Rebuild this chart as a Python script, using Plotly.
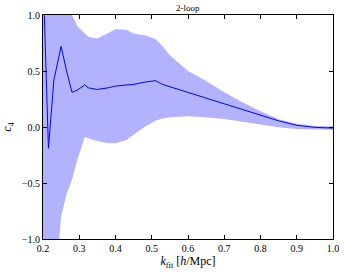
import plotly.graph_objects as go

k = [0.20, 0.215, 0.23, 0.25, 0.265, 0.28, 0.295, 0.315, 0.325, 0.35, 0.38, 0.40,
     0.43, 0.45, 0.48, 0.51, 0.53, 0.55, 0.60, 0.65, 0.70, 0.75, 0.80, 0.85,
     0.90, 0.95, 1.00]
c4_mean = [1.38, -0.19, 0.42, 0.72, 0.50, 0.31, 0.33, 0.375, 0.35, 0.335, 0.35, 0.365,
           0.375, 0.38, 0.40, 0.414, 0.38, 0.36, 0.31, 0.255, 0.21, 0.16, 0.105, 0.055,
           0.015, -0.003, -0.01]
c4_upper = [3.0, 2.5, 2.0, 1.6, 1.3, 1.0, 0.90, 0.84, 0.805, 0.79, 0.84, 0.872,
            0.868, 0.834, 0.82, 0.785, 0.72, 0.64, 0.50, 0.41, 0.31, 0.22, 0.14, 0.07,
            0.028, 0.01, 0.006]
c4_lower = [-3.0, -2.5, -1.6, -0.80, -0.60, -0.47, -0.29, -0.09, -0.10, -0.125, -0.145, -0.145,
            -0.115, -0.07, 0.0, 0.055, 0.075, 0.088, 0.095, 0.088, 0.072, 0.05, 0.022, -0.002,
            -0.018, -0.023, -0.023]

xticks = [0.2, 0.3, 0.4, 0.5, 0.6, 0.7, 0.8, 0.9, 1.0]
yticks = [-1.0, -0.5, 0.0, 0.5, 1.0]
xtick_text = ["0.2", "0.3", "0.4", "0.5", "0.6", "0.7", "0.8", "0.9", "1.0"]
ytick_text = ["\u22121.0", "\u22120.5", "0.0", "0.5", "1.0"]

font = "Liberation Serif, serif"

fig = go.Figure()
fig.add_trace(go.Scatter(
    x=k + k[::-1], y=c4_upper + c4_lower[::-1],
    fill="toself", fillcolor="rgb(178,178,255)", line=dict(width=0),
    mode="lines", hoverinfo="skip", showlegend=False))
fig.add_trace(go.Scatter(
    x=k, y=c4_mean, mode="lines", line=dict(color="rgb(0,0,255)", width=1),
    showlegend=False))

fig.update_layout(
    width=344, height=272,
    margin=dict(l=43, r=11, t=15, b=33, autoexpand=False),
    paper_bgcolor="white", plot_bgcolor="white",
    font=dict(family=font, size=10, color="black"),
    title=dict(text="2-loop", x=0.546, xanchor="center", y=0.972, yanchor="middle",
               font=dict(family=font, size=9)),
)
axis_common = dict(showgrid=False, zeroline=False, showline=True, linecolor="black",
                   linewidth=1, mirror="ticks", ticks="inside", ticklen=4,
                   tickcolor="black", tickwidth=1, automargin=False)
fig.update_xaxes(range=[0.2, 1.0], tickvals=xticks, ticktext=xtick_text,
                 title=dict(text="<i>k</i><sub>fit</sub> [<i>h</i>/Mpc]", standoff=2,
                            font=dict(family=font, size=12)),
                 **axis_common)
fig.update_yaxes(range=[-1.0, 1.0], tickvals=yticks, ticktext=ytick_text,
                 title=dict(text="<i>c</i><sub>4</sub>", standoff=7,
                            font=dict(family=font, size=12)),
                 **axis_common)

fig.write_html("out.html", config={"displayModeBar": False},
               post_script="document.body.style.margin='0';document.body.style.padding='0';")
